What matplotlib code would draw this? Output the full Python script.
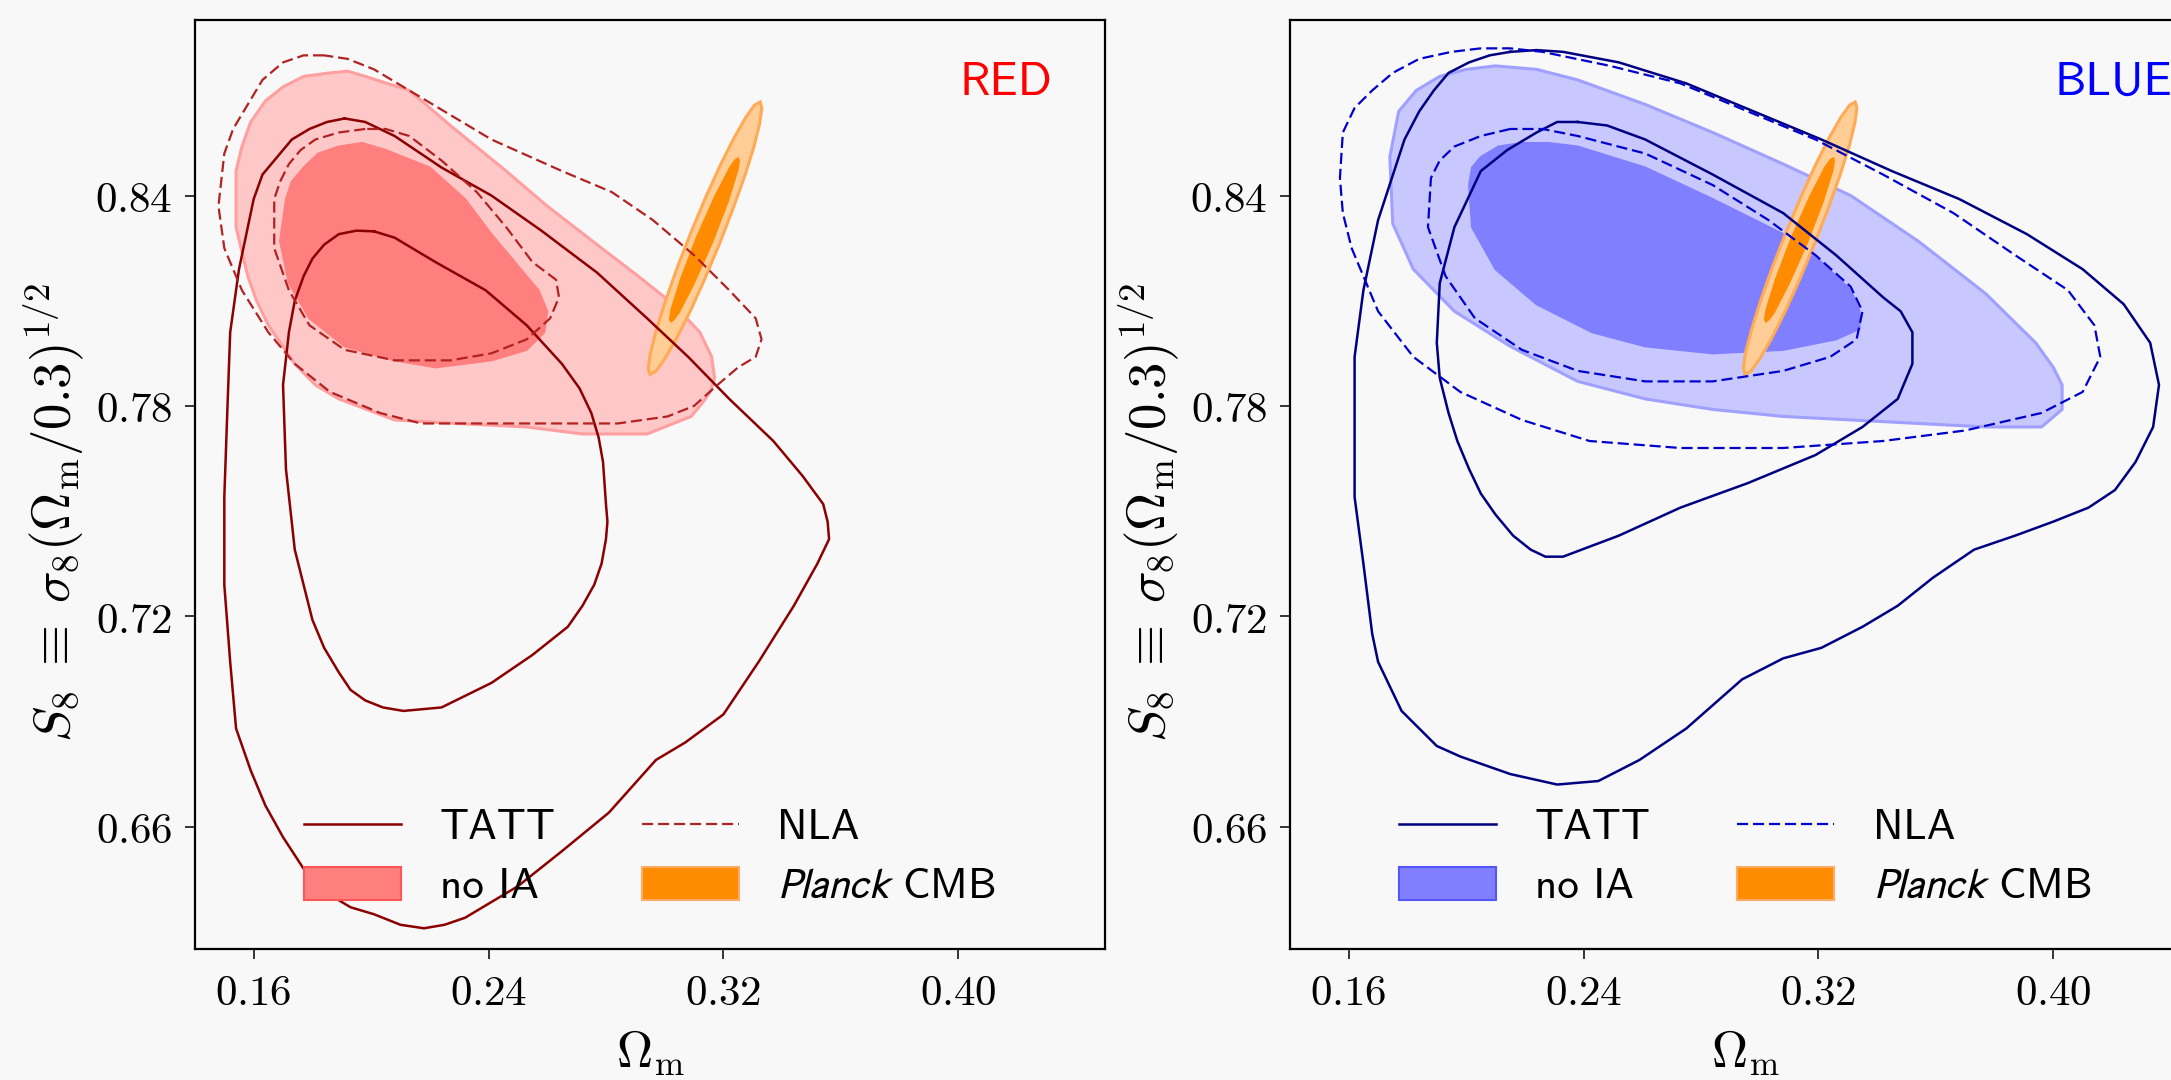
import numpy as np
import matplotlib
matplotlib.use("Agg")
import matplotlib.pyplot as plt
from matplotlib.font_manager import FontProperties
from matplotlib.lines import Line2D
from matplotlib.patches import Patch

plt.rcParams["mathtext.fontset"] = "cm"

# Contour vertices as (Omega_m, S8), 68% and 95% levels
# --- RED sample ---
red_noia_95 = [(0.186, 0.875), (0.177, 0.874), (0.170, 0.871), (0.164, 0.867), (0.159, 0.861),
               (0.156, 0.854), (0.154, 0.847), (0.154, 0.831), (0.158, 0.817), (0.161, 0.810),
               (0.165, 0.803), (0.174, 0.792), (0.181, 0.786), (0.189, 0.782), (0.208, 0.776),
               (0.229, 0.775), (0.253, 0.774), (0.272, 0.772), (0.294, 0.772), (0.303, 0.775),
               (0.309, 0.777), (0.313, 0.781), (0.3155, 0.784), (0.317, 0.788), (0.316, 0.794),
               (0.312, 0.801), (0.303, 0.809), (0.291, 0.817), (0.277, 0.826), (0.260, 0.837),
               (0.246, 0.847), (0.227, 0.860), (0.213, 0.870), (0.198, 0.874), (0.192, 0.8755)]
red_noia_68 = [(0.189, 0.854), (0.182, 0.852), (0.177, 0.848), (0.173, 0.844), (0.171, 0.839),
               (0.169, 0.827), (0.172, 0.815), (0.179, 0.805), (0.191, 0.797), (0.208, 0.793),
               (0.222, 0.791), (0.241, 0.793), (0.253, 0.796), (0.259, 0.801), (0.260, 0.807),
               (0.257, 0.813), (0.251, 0.819), (0.241, 0.829), (0.232, 0.839), (0.220, 0.848),
               (0.205, 0.853), (0.197, 0.855)]
red_tatt_68 = [(0.201, 0.8298), (0.195, 0.830), (0.189, 0.829), (0.184, 0.826), (0.180, 0.822),
               (0.177, 0.817), (0.174, 0.810), (0.172, 0.801), (0.170, 0.786), (0.171, 0.762),
               (0.174, 0.739), (0.180, 0.719), (0.184, 0.711), (0.189, 0.704), (0.193, 0.699),
               (0.198, 0.696), (0.204, 0.694), (0.211, 0.693), (0.224, 0.694), (0.241, 0.701),
               (0.255, 0.709), (0.267, 0.717), (0.272, 0.723), (0.276, 0.729), (0.2785, 0.735),
               (0.280, 0.742), (0.2805, 0.747), (0.280, 0.752), (0.279, 0.764), (0.2775, 0.771),
               (0.275, 0.778), (0.271, 0.785), (0.265, 0.792), (0.253, 0.803), (0.239, 0.813),
               (0.222, 0.821), (0.208, 0.828)]
red_tatt_95 = [(0.191, 0.862), (0.185, 0.861), (0.179, 0.859), (0.173, 0.856), (0.168, 0.851),
               (0.163, 0.846), (0.160, 0.839), (0.155, 0.819), (0.152, 0.801), (0.151, 0.778),
               (0.150, 0.754), (0.150, 0.729), (0.152, 0.707), (0.154, 0.688), (0.159, 0.676),
               (0.164, 0.666), (0.170, 0.657), (0.177, 0.648), (0.185, 0.641), (0.193, 0.637),
               (0.201, 0.635), (0.210, 0.632), (0.218, 0.631), (0.225, 0.632), (0.232, 0.634),
               (0.250, 0.643), (0.265, 0.653), (0.281, 0.664), (0.297, 0.679), (0.307, 0.684),
               (0.320, 0.692), (0.332, 0.707), (0.344, 0.723), (0.352, 0.735), (0.356, 0.742),
               (0.3555, 0.747), (0.354, 0.752), (0.347, 0.760), (0.337, 0.770), (0.322, 0.782),
               (0.308, 0.794), (0.294, 0.805), (0.277, 0.818), (0.258, 0.830), (0.241, 0.840),
               (0.224, 0.848), (0.208, 0.857), (0.198, 0.861)]
red_nla_95 = [(0.184, 0.880), (0.177, 0.880), (0.170, 0.878), (0.163, 0.873), (0.158, 0.866),
              (0.153, 0.859), (0.150, 0.852), (0.148, 0.837), (0.150, 0.825), (0.156, 0.813),
              (0.165, 0.801), (0.174, 0.792), (0.186, 0.784), (0.203, 0.778), (0.217, 0.775),
              (0.241, 0.775), (0.265, 0.775), (0.284, 0.775), (0.301, 0.777), (0.310, 0.780),
              (0.318, 0.786), (0.325, 0.791), (0.331, 0.794), (0.333, 0.799), (0.331, 0.805),
              (0.322, 0.813), (0.310, 0.823), (0.296, 0.833), (0.282, 0.841), (0.265, 0.847),
              (0.241, 0.856), (0.217, 0.868), (0.201, 0.876), (0.192, 0.879)]
red_nla_68 = [(0.198, 0.859), (0.189, 0.858), (0.181, 0.856), (0.176, 0.853), (0.172, 0.849),
              (0.169, 0.844), (0.167, 0.839), (0.167, 0.825), (0.172, 0.813), (0.179, 0.803),
              (0.191, 0.796), (0.208, 0.793), (0.227, 0.793), (0.241, 0.795), (0.253, 0.799),
              (0.261, 0.805), (0.264, 0.811), (0.263, 0.816), (0.255, 0.821), (0.246, 0.831),
              (0.236, 0.841), (0.224, 0.850), (0.213, 0.857), (0.205, 0.859)]

# --- BLUE sample ---
blue_noia_95 = [(0.210, 0.877), (0.224, 0.876), (0.238, 0.873), (0.261, 0.866), (0.284, 0.858),
                (0.308, 0.849), (0.331, 0.840), (0.354, 0.827), (0.377, 0.812), (0.394, 0.798),
                (0.400, 0.791), (0.403, 0.786), (0.403, 0.779), (0.396, 0.774), (0.377, 0.774),
                (0.354, 0.775), (0.331, 0.776), (0.308, 0.777), (0.284, 0.779), (0.261, 0.782),
                (0.238, 0.787), (0.215, 0.797), (0.196, 0.807), (0.182, 0.819), (0.175, 0.832),
                (0.174, 0.851), (0.177, 0.864), (0.183, 0.870), (0.191, 0.874), (0.200, 0.876)]
blue_noia_68 = [(0.219, 0.855), (0.211, 0.854), (0.205, 0.851), (0.202, 0.848), (0.201, 0.843),
                (0.202, 0.831), (0.210, 0.819), (0.224, 0.809), (0.243, 0.801), (0.261, 0.797),
                (0.284, 0.795), (0.308, 0.796), (0.326, 0.799), (0.334, 0.802), (0.334, 0.807),
                (0.331, 0.813), (0.321, 0.821), (0.308, 0.829), (0.284, 0.839), (0.261, 0.848),
                (0.238, 0.854), (0.228, 0.855)]
blue_tatt_68 = [(0.238, 0.861), (0.231, 0.861), (0.224, 0.858), (0.214, 0.853), (0.205, 0.847),
                (0.196, 0.831), (0.191, 0.815), (0.190, 0.798), (0.191, 0.788), (0.194, 0.778),
                (0.197, 0.770), (0.201, 0.762), (0.205, 0.755), (0.210, 0.749), (0.216, 0.743),
                (0.222, 0.739), (0.227, 0.737), (0.233, 0.737), (0.252, 0.743), (0.273, 0.751),
                (0.296, 0.758), (0.319, 0.766), (0.335, 0.774), (0.347, 0.782), (0.352, 0.792),
                (0.352, 0.801), (0.348, 0.807), (0.342, 0.811), (0.326, 0.823), (0.308, 0.835),
                (0.284, 0.846), (0.261, 0.856), (0.248, 0.860)]
blue_tatt_95 = [(0.215, 0.881), (0.208, 0.880), (0.201, 0.878), (0.194, 0.875), (0.189, 0.870),
                (0.184, 0.864), (0.179, 0.856), (0.170, 0.833), (0.165, 0.813), (0.162, 0.794),
                (0.162, 0.774), (0.162, 0.754), (0.165, 0.735), (0.168, 0.715), (0.170, 0.707),
                (0.174, 0.700), (0.178, 0.693), (0.184, 0.688), (0.190, 0.683), (0.198, 0.680),
                (0.215, 0.675), (0.231, 0.672), (0.245, 0.673), (0.259, 0.679), (0.275, 0.688),
                (0.294, 0.702), (0.308, 0.708), (0.321, 0.711), (0.335, 0.717), (0.347, 0.723),
                (0.359, 0.731), (0.373, 0.739), (0.387, 0.743), (0.400, 0.747), (0.412, 0.751),
                (0.421, 0.756), (0.428, 0.764), (0.434, 0.774), (0.436, 0.786), (0.433, 0.798),
                (0.424, 0.809), (0.410, 0.819), (0.391, 0.829), (0.368, 0.839), (0.345, 0.847),
                (0.321, 0.856), (0.298, 0.864), (0.275, 0.872), (0.252, 0.878), (0.233, 0.881),
                (0.224, 0.8815)]
blue_nla_95 = [(0.205, 0.882), (0.195, 0.881), (0.184, 0.879), (0.175, 0.875), (0.168, 0.870),
               (0.162, 0.865), (0.158, 0.858), (0.157, 0.845), (0.158, 0.835), (0.161, 0.825),
               (0.170, 0.807), (0.182, 0.794), (0.198, 0.784), (0.219, 0.776), (0.242, 0.770),
               (0.273, 0.768), (0.308, 0.768), (0.342, 0.770), (0.370, 0.773), (0.396, 0.778),
               (0.410, 0.784), (0.416, 0.794), (0.414, 0.803), (0.405, 0.813), (0.387, 0.823),
               (0.366, 0.835), (0.342, 0.846), (0.319, 0.856), (0.296, 0.864), (0.273, 0.872),
               (0.249, 0.877), (0.226, 0.881), (0.215, 0.882)]
blue_nla_68 = [(0.215, 0.859), (0.205, 0.857), (0.196, 0.854), (0.191, 0.850), (0.188, 0.845),
               (0.187, 0.831), (0.193, 0.817), (0.203, 0.805), (0.219, 0.796), (0.238, 0.790),
               (0.261, 0.787), (0.284, 0.787), (0.308, 0.790), (0.324, 0.794), (0.333, 0.799),
               (0.335, 0.807), (0.331, 0.814), (0.319, 0.823), (0.303, 0.833), (0.284, 0.843),
               (0.261, 0.852), (0.238, 0.857), (0.226, 0.859)]

# --- Planck CMB (same in both panels) ---
planck_95 = [(0.2950, 0.7890), (0.2970, 0.7899), (0.3000, 0.7934), (0.3040, 0.7992),
             (0.3087, 0.8070), (0.3137, 0.8163), (0.3187, 0.8263), (0.3233, 0.8363),
             (0.3274, 0.8459), (0.3305, 0.8542), (0.3324, 0.8607), (0.3331, 0.8650),
             (0.3325, 0.8667), (0.3306, 0.8658), (0.3276, 0.8623), (0.3236, 0.8564),
             (0.3189, 0.8486), (0.3139, 0.8394), (0.3089, 0.8294), (0.3042, 0.8193),
             (0.3002, 0.8098), (0.2971, 0.8015), (0.2951, 0.7950), (0.2944, 0.7907)]
planck_68 = [(0.3020, 0.8039), (0.3030, 0.8045), (0.3049, 0.8066), (0.3100, 0.8149),
             (0.3162, 0.8265), (0.3216, 0.8383), (0.3249, 0.8472), (0.3254, 0.8498),
             (0.3251, 0.8508), (0.3240, 0.8502), (0.3222, 0.8481), (0.3171, 0.8398),
             (0.3109, 0.8282), (0.3055, 0.8164), (0.3022, 0.8075), (0.3017, 0.8049)]

xticks = [0.16, 0.24, 0.32, 0.40]
yticks = [0.66, 0.72, 0.78, 0.84]

BG = "#f8f8f8"
legend_font = FontProperties(family="cmss10", size=31, math_fontfamily="stixsans")


def closed(pts):
    a = np.array(pts + [pts[0]])
    return a[:, 0], a[:, 1]


def draw_panel(ax, sample, noia95, noia68, tatt68, tatt95, nla68, nla95, st):
    # no IA filled contours
    x, y = closed(noia95)
    ax.fill(x, y, facecolor=st["fill95"], edgecolor=st["edge95"], lw=2.2,
            joinstyle="round", zorder=1)
    x, y = closed(noia68)
    ax.fill(x, y, facecolor=st["fill68"], edgecolor=st["fill68"], lw=1.5,
            joinstyle="round", zorder=2)

    # Planck
    x, y = closed(planck_95)
    ax.fill(x, y, facecolor="#ffcd95", edgecolor="#ffaa55", lw=2.2, zorder=3)
    x, y = closed(planck_68)
    ax.fill(x, y, facecolor="#ff8c00", edgecolor="#ff8c00", lw=1.0, zorder=4)

    # TATT / NLA lines
    for pts in (tatt68, tatt95):
        x, y = closed(pts)
        ax.plot(x, y, color=st["tatt"], lw=1.8, solid_joinstyle="round", zorder=5)
    for pts in (nla68, nla95):
        x, y = closed(pts)
        ax.plot(x, y, color=st["nla"], lw=1.6, dashes=(5, 2.2), zorder=5)

    ax.set_xlim(0.14, 0.45)
    ax.set_ylim(0.625, 0.89)
    ax.set_facecolor(BG)
    ax.set_xticks(xticks)
    ax.set_xticklabels([f"${v:.2f}$" for v in xticks])
    ax.set_yticks(yticks)
    ax.set_yticklabels([f"${v:.2f}$" for v in yticks])
    ax.tick_params(labelsize=31, length=7, width=1.1, pad=9)
    for sp in ax.spines.values():
        sp.set_linewidth(1.6)
    ax.set_xlabel(r"$\Omega_{\rm m}$", fontsize=36, labelpad=11)
    ax.set_ylabel(r"$S_8\;\equiv\;\sigma_8(\Omega_{\rm m}/0.3)^{1/2}$", fontsize=38)
    ax.yaxis.set_label_coords(-0.12, 0.47)

    ax.text(0.84, 0.955, sample, transform=ax.transAxes, ha="left", va="top",
            color=st["label"], fontsize=34, family="cmss10")

    handles = [
        Line2D([], [], color=st["tatt"], lw=1.8),
        Patch(facecolor=st["fill68"], edgecolor=st["patch_edge"], lw=1.5),
        Line2D([], [], color=st["nla"], lw=1.6, dashes=(5, 2.2)),
        Patch(facecolor="#ff8c00", edgecolor="#ffaa66", lw=1.5),
    ]
    labels = ["TATT", "no IA", "NLA", r"$\mathit{Planck}$ CMB"]
    ax.legend(handles, labels, ncol=2, loc="lower center", frameon=False, prop=legend_font,
              handlelength=2.25, handleheight=0.8, handletextpad=0.9, columnspacing=2.0,
              labelspacing=0.45, borderaxespad=0.6)


red_style = dict(fill95="#ffc8c8", edge95="#ff9f9f", fill68="#ff7f7f", patch_edge="#ff5555",
                 tatt="#8b0000", nla="#b22222", label="red")
blue_style = dict(fill95="#c8c8ff", edge95="#a0a0ff", fill68="#7f7fff", patch_edge="#5555ff",
                  tatt="#000080", nla="#0000cd", label="blue")

fig = plt.figure(figsize=(21.71, 10.8), dpi=100, facecolor=BG)
ax1 = fig.add_axes([0.0898, 0.121, 0.4192, 0.8602])
ax2 = fig.add_axes([0.5942, 0.121, 0.4192, 0.8602])

draw_panel(ax1, "RED", red_noia_95, red_noia_68, red_tatt_68, red_tatt_95,
           red_nla_68, red_nla_95, red_style)
draw_panel(ax2, "BLUE", blue_noia_95, blue_noia_68, blue_tatt_68, blue_tatt_95,
           blue_nla_68, blue_nla_95, blue_style)

fig.savefig("out.png", dpi=100, facecolor=BG)
